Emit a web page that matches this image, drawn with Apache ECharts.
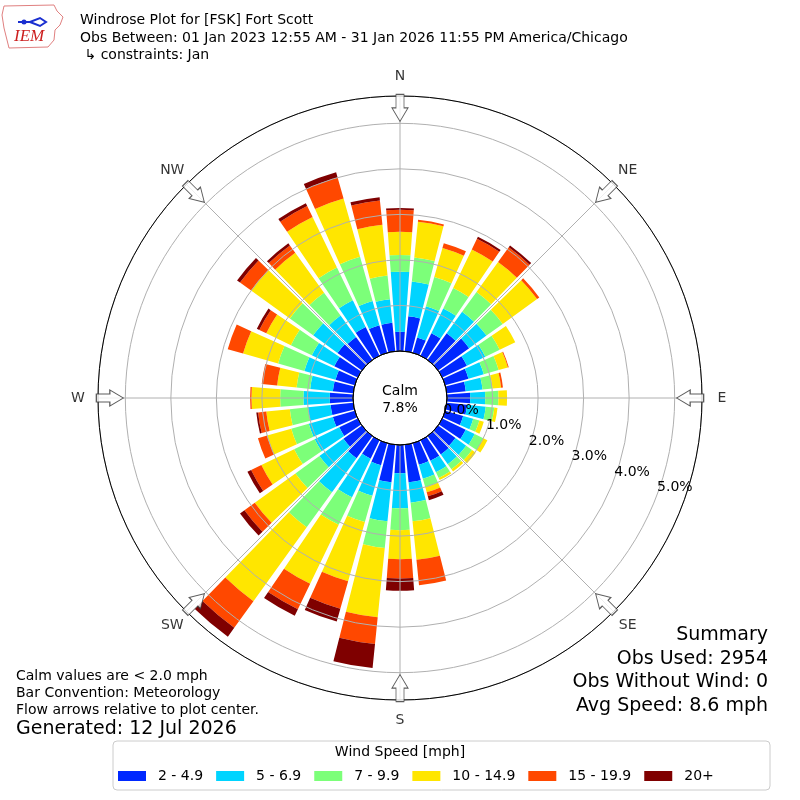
<!DOCTYPE html>
<html>
<head>
<meta charset="utf-8">
<title>Windrose Plot for [FSK] Fort Scott</title>
<script src="https://cdn.jsdelivr.net/npm/echarts@6/dist/echarts.min.js"></script>
<style>
html, body { margin: 0; padding: 0; background: #fff; }
#main { width: 800px; height: 800px; }
</style>
</head>
<body>
<div id="main"></div>
<script>
// direction bins, 10 degrees each, starting at north, clockwise
var directions = ['0', '10', '20', '30', '40', '50', '60', '70', '80', '90', '100', '110',
	'120', '130', '140', '150', '160', '170', '180', '190', '200', '210', '220', '230',
	'240', '250', '260', '270', '280', '290', '300', '310', '320', '330', '340', '350'];

var speedBins = ['2 - 4.9', '5 - 6.9', '7 - 9.9', '10 - 14.9', '15 - 19.9', '20+'];

// percent of observations per direction for each speed bin
var speed2to5 = [0.42, 0.77, 0.35, 0.55, 0.72, 0.84, 0.60, 0.53, 0.42, 0.51, 0.45, 0.41,
	0.57, 0.47, 0.50, 0.50, 0.49, 0.83, 0.62, 0.83, 0.50, 0.45, 0.60, 0.50,
	0.45, 0.50, 0.50, 0.51, 0.45, 0.44, 0.57, 0.66, 0.62, 0.70, 0.63, 0.63];
var speed5to7 = [1.32, 0.77, 0.71, 0.60, 0.58, 0.47, 0.45, 0.35, 0.37, 0.33, 0.41, 0.23,
	0.22, 0.29, 0.26, 0.28, 0.32, 0.45, 0.77, 0.86, 0.70, 0.94, 0.92, 0.65,
	0.60, 0.55, 0.50, 0.58, 0.50, 0.71, 0.55, 0.66, 0.58, 0.65, 0.55, 0.52];
var speed7to10 = [0.37, 0.53, 0.67, 0.50, 0.54, 0.44, 0.35, 0.34, 0.22, 0.29, 0.19, 0.14,
	0.21, 0.16, 0.14, 0.14, 0.19, 0.41, 0.48, 0.59, 0.60, 0.67, 0.95, 0.65,
	0.50, 0.40, 0.40, 0.51, 0.30, 0.60, 0.51, 0.63, 0.62, 0.80, 1.01, 0.52];
var speed10to15 = [0.51, 0.79, 0.66, 0.94, 0.81, 0.93, 0.38, 0.21, 0.19, 0.19, 0.07, 0.10,
	0.10, 0.10, 0.06, 0.05, 0.12, 0.85, 0.64, 1.53, 1.35, 1.44, 2.00, 1.10,
	0.80, 0.55, 0.52, 0.63, 0.43, 0.80, 0.60, 1.05, 1.08, 1.23, 1.33, 1.12];
var speed15to20 = [0.48, 0.04, 0.11, 0.26, 0.40, 0.06, 0, 0.02, 0.04, 0, 0, 0,
	0, 0, 0, 0, 0.09, 0.56, 0.42, 0.59, 0.63, 0.62, 0.72, 0.28,
	0.25, 0.21, 0.18, 0.03, 0.34, 0.35, 0.17, 0.30, 0.20, 0.27, 0.48, 0.54];
var speed20up = [0.04, 0, 0, 0.05, 0.05, 0, 0, 0, 0, 0, 0, 0,
	0, 0, 0, 0, 0.09, 0, 0.27, 0.53, 0.29, 0.16, 0.24, 0.12,
	0.09, 0, 0.04, 0, 0, 0, 0.06, 0.08, 0.06, 0.07, 0.12, 0.07];

var compassAngles = [0, 45, 90, 135, 180, 225, 270, 315];
var compassNames = ['N', 'NE', 'E', 'SE', 'S', 'SW', 'W', 'NW'];

var calmPercent = '7.8%';
var summaryLines = ['Summary', 'Obs Used: 2954', 'Obs Without Wind: 0', 'Avg Speed: 8.6 mph'];
var noteLines = ['Calm values are < 2.0 mph', 'Bar Convention: Meteorology', 'Flow arrows relative to plot center.'];

var binValues = [speed2to5, speed5to7, speed7to10, speed10to15, speed15to20, speed20up];
var binColors = ['#0028ff', '#00d4ff', '#7cff79', '#ffe600', '#ff4800', '#7f0000'];

var myChart = echarts.init(document.getElementById('main'));

var center = [400, 398];
var innerR = 47, outerR = 302;
var rMax = 5.6;
var arrowAt = 5.34;
var compassLabelAt = 6.04;
var arrowPath = 'path://M4,0 L12,0 L12,14 L16,14 L8,28 L0,14 L4,14 Z';
var font = 'DejaVu Sans';

var series = speedBins.map(function(name, k) {
	return {
		name: name,
		type: 'bar',
		coordinateSystem: 'polar',
		polarIndex: 0,
		stack: 'speed',
		barCategoryGap: '16%',
		itemStyle: { color: binColors[k] },
		data: binValues[k],
		z: 2
	};
});

// flow arrows on the rim, pointing in
series.push({
	type: 'scatter',
	coordinateSystem: 'polar',
	polarIndex: 1,
	symbol: arrowPath,
	symbolSize: [16, 27],
	silent: true,
	itemStyle: { color: '#fff', borderColor: '#333', borderWidth: 1 },
	data: compassAngles.map(function(a) {
		return { value: [arrowAt, a], symbolRotate: -a };
	}),
	z: 10
});

// compass point names outside the rim
series.push({
	type: 'scatter',
	coordinateSystem: 'polar',
	polarIndex: 1,
	symbolSize: 1,
	clip: false,
	silent: true,
	itemStyle: { color: 'rgba(0,0,0,0)' },
	label: { show: true, position: 'inside', formatter: '{b}', fontSize: 14, color: '#000', fontFamily: font },
	data: compassAngles.map(function(a, i) {
		return { name: compassNames[i], value: [compassLabelAt, a] };
	}),
	z: 10
});

var graphics = [
	// logo
	{
		type: 'polygon',
		shape: { points: [[4, 6], [54, 5], [57, 11], [63, 17], [60, 25], [55, 30], [54, 40], [48, 47], [9, 48], [7, 40], [4, 28], [2, 15]] },
		style: { fill: '#fff', stroke: '#e08080', lineWidth: 1 }
	},
	{
		type: 'polyline',
		shape: { points: [[18, 22], [30, 22], [40, 18], [46, 22], [40, 26], [30, 22]] },
		style: { stroke: '#1a2fd0', lineWidth: 2, fill: null }
	},
	{
		type: 'circle',
		shape: { cx: 24, cy: 22, r: 2.5 },
		style: { fill: '#1a2fd0' }
	},
	{
		type: 'text', left: 14, top: 28,
		style: { text: 'IEM', fill: '#cc1f1f', font: 'italic 17px "Liberation Serif"' }
	},
	{
		type: 'text', left: 80, top: 13,
		style: { text: 'Windrose Plot for [FSK] Fort Scott', fill: '#000', font: '14px "DejaVu Sans"' }
	},
	{
		type: 'text', left: 80, top: 31,
		style: { text: 'Obs Between: 01 Jan 2023 12:55 AM - 31 Jan 2026 11:55 PM America/Chicago', fill: '#000', font: '14px "DejaVu Sans"' }
	},
	{
		type: 'text', left: 80, top: 48,
		style: { text: ' \u21b3 constraints: Jan', fill: '#000', font: '14px "DejaVu Sans"' }
	},
	{
		type: 'text', x: center[0], y: center[1] + 2,
		style: { text: 'Calm\n' + calmPercent, fill: '#000', font: '14px "DejaVu Sans"', align: 'center', verticalAlign: 'middle', lineHeight: 17 },
		z: 20
	},
	{
		type: 'rect',
		shape: { x: 113, y: 741, width: 657, height: 49, r: 4 },
		style: { fill: null, stroke: '#cccccc', lineWidth: 1 }
	},
	{
		type: 'text', x: 400, y: 752,
		style: { text: 'Wind Speed [mph]', fill: '#000', font: '14px "DejaVu Sans"', align: 'center', verticalAlign: 'middle' }
	},
	{
		type: 'text', x: 16, y: 729,
		style: { text: 'Generated: 12 Jul 2026', fill: '#000', font: '19px "DejaVu Sans"', verticalAlign: 'middle' }
	}
];

noteLines.forEach(function(t, i) {
	graphics.push({
		type: 'text', x: 16, y: 676 + i * 17,
		style: { text: t, fill: '#000', font: '14px "DejaVu Sans"', verticalAlign: 'middle' }
	});
});

summaryLines.forEach(function(t, i) {
	graphics.push({
		type: 'text', x: 768, y: 635 + i * 23.7,
		style: { text: t, fill: '#000', font: '19px "DejaVu Sans"', align: 'right', verticalAlign: 'middle' }
	});
});

var option = {
	animation: false,
	backgroundColor: '#fff',
	textStyle: { fontFamily: font },
	polar: [
		{ center: center, radius: [innerR, outerR] },
		{ center: center, radius: [innerR, outerR] },
		{ center: center, radius: [innerR, outerR] },
		{ center: center, radius: [0, innerR] }
	],
	angleAxis: [
		{
			polarIndex: 0, type: 'category', data: directions,
			startAngle: 95, clockwise: true,
			axisLine: { show: false }, axisTick: { show: false },
			axisLabel: { show: false }, splitLine: { show: false }
		},
		{
			polarIndex: 1, type: 'value', min: 0, max: 360, interval: 45,
			startAngle: 90, clockwise: true, z: 5,
			axisLine: { lineStyle: { color: '#000', width: 1 } },
			axisTick: { show: false },
			axisLabel: { show: false },
			splitLine: { lineStyle: { color: '#b0b0b0', width: 1 } }
		},
		{
			polarIndex: 2, type: 'value', min: 0, max: 360, startAngle: -20,
			axisLine: { show: false }, axisTick: { show: false },
			axisLabel: { show: false }, splitLine: { show: false }
		},
		{
			polarIndex: 3, type: 'value', min: 0, max: 360, startAngle: 90, z: 6,
			axisLine: { lineStyle: { color: '#000', width: 1 } },
			axisTick: { show: false }, axisLabel: { show: false }, splitLine: { show: false }
		}
	],
	radiusAxis: [
		{
			polarIndex: 0, type: 'value', min: 0, max: rMax, interval: 1, z: 4,
			axisLine: { show: false }, axisTick: { show: false }, axisLabel: { show: false },
			splitLine: { lineStyle: { color: '#b0b0b0', width: 1 } }
		},
		{
			polarIndex: 1, type: 'value', min: 0, max: rMax,
			axisLine: { show: false }, axisTick: { show: false }, axisLabel: { show: false }, splitLine: { show: false }
		},
		{
			polarIndex: 2, type: 'value', min: 0, max: rMax, interval: 1, z: 8,
			axisLine: { show: false }, axisTick: { show: false }, splitLine: { show: false },
			axisLabel: {
				margin: -3, align: 'left', verticalAlign: 'bottom',
				fontSize: 14, color: '#000',
				formatter: function(v) {
					return Math.round(v) === v ? v.toFixed(1) + '%' : '';
				}
			}
		},
		{
			polarIndex: 3, type: 'value', min: 0, max: 1,
			axisLine: { show: false }, axisTick: { show: false }, axisLabel: { show: false }, splitLine: { show: false }
		}
	],
	legend: {
		data: speedBins,
		left: 118,
		top: 769,
		padding: 0,
		icon: 'rect',
		itemWidth: 28,
		itemHeight: 10,
		itemGap: 13,
		selectedMode: false,
		textStyle: { fontSize: 14, color: '#000', padding: [0, 0, 0, 7] }
	},
	graphic: graphics,
	series: series
};

myChart.setOption(option);
</script>
</body>
</html>
